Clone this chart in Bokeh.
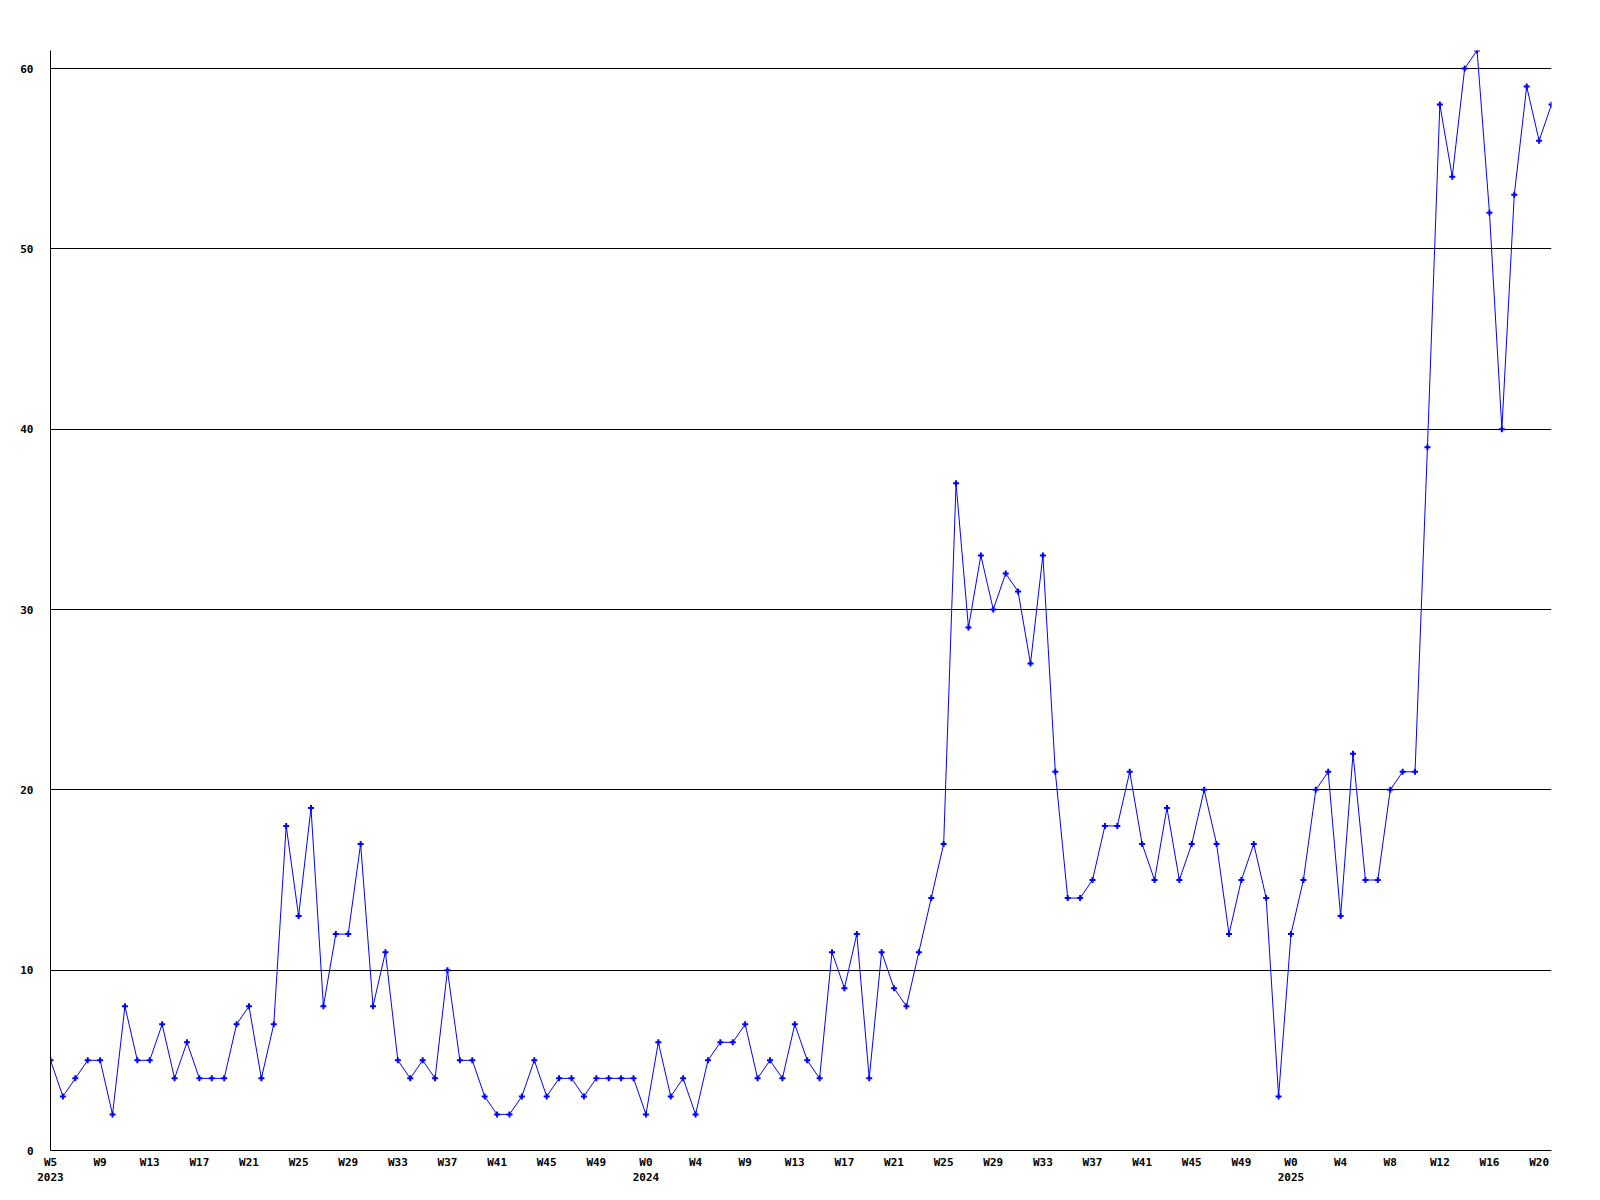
from bokeh.plotting import figure
from bokeh.models import Range1d, FixedTicker, ColumnDataSource
from bokeh.embed import file_html
from bokeh.resources import INLINE

# --- data -------------------------------------------------------------
years_2023 = [2023] * 48
weeks_2023 = list(range(5, 53))
values_2023 = [5, 3, 4, 5, 5, 2, 8, 5, 5, 7,
               4, 6, 4, 4, 4, 7, 8, 4, 7, 18,
               13, 19, 8, 12, 12, 17, 8, 11, 5, 4,
               5, 4, 10, 5, 5, 3, 2, 2, 3, 5,
               3, 4, 4, 3, 4, 4, 4, 4]

years_2024 = [2024] * 52
weeks_2024 = list(range(0, 8)) + list(range(9, 53))
values_2024 = [2, 6, 3, 4, 2, 5, 6, 6, 7, 4,
               5, 4, 7, 5, 4, 11, 9, 12, 4, 11,
               9, 8, 11, 14, 17, 37, 29, 33, 30, 32,
               31, 27, 33, 21, 14, 14, 15, 18, 18, 21,
               17, 15, 19, 15, 17, 20, 17, 12, 15, 17,
               14, 3]

years_2025 = [2025] * 22
weeks_2025 = list(range(0, 22))
values_2025 = [12, 15, 20, 21, 13, 22, 15, 15, 20, 21,
               21, 39, 58, 54, 60, 61, 52, 40, 53, 59,
               56, 58]

y_ticks = [0, 10, 20, 30, 40, 50, 60]
label_every = 4

years = years_2023 + years_2024 + years_2025
weeks = weeks_2023 + weeks_2024 + weeks_2025
values = values_2023 + values_2024 + values_2025
idx = list(range(len(values)))

x_ticks = list(range(0, len(values), label_every))
overrides = {}
for i in x_ticks:
    lab = "W%d" % weeks[i]
    if i == 0 or years[i] != years[i - 1]:
        lab += "\n%d" % years[i]
    overrides[i] = lab

src = ColumnDataSource(dict(x=idx, y=values))

# --- figure -----------------------------------------------------------
p = figure(frame_width=1501, frame_height=1100,
           x_range=Range1d(0, len(values) - 1), y_range=Range1d(0, 61),
           output_backend="svg", toolbar_location=None,
           min_border_left=50, min_border_top=50,
           min_border_right=30, min_border_bottom=38)
p.outline_line_color = None
p.background_fill_color = "white"
p.border_fill_color = "white"

p.xgrid.visible = False
p.ygrid.ticker = FixedTicker(ticks=y_ticks)
p.ygrid.grid_line_color = "black"
p.ygrid.grid_line_alpha = 1.0
p.ygrid.grid_line_width = 1

p.xaxis.ticker = FixedTicker(ticks=x_ticks)
p.xaxis.major_label_overrides = overrides
p.yaxis.ticker = FixedTicker(ticks=y_ticks)

for ax in (p.xaxis, p.yaxis):
    ax.axis_line_color = "black"
    ax.axis_line_width = 1
    ax.major_tick_line_color = None
    ax.minor_tick_line_color = None
    ax.major_tick_out = 0
    ax.major_tick_in = 0
    ax.minor_tick_out = 0
    ax.minor_tick_in = 0
    ax.major_label_text_font = "DejaVu Sans Mono"
    ax.major_label_text_font_size = "11px"
    ax.major_label_text_font_style = "bold"
    ax.major_label_text_color = "black"
p.yaxis.major_label_standoff = 17
p.xaxis.major_label_standoff = 5

p.line("x", "y", source=src, line_color="#0000ff", line_width=1)
p.scatter("x", "y", source=src, marker="cross", size=6,
          line_color="#0000ff", line_width=2)

open("out.html", "w").write(file_html(p, INLINE))
